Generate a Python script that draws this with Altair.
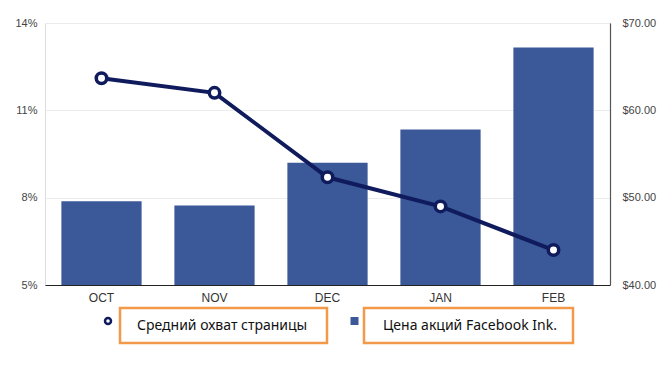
import altair as alt
import pandas as pd

months = ["OCT", "NOV", "DEC", "JAN", "FEB"]
reach_pct = [12.1, 11.6, 8.7, 7.7, 6.2]
price_usd = [49.6, 49.1, 54.0, 57.8, 67.2]
line_label = "Средний охват страницы"
bar_label = "Цена акций Facebook Ink."

df = pd.DataFrame({"month": months, "reach": reach_pct, "price": price_usd})

NAVY = "#0f1b5c"
BLUE = "#3b5998"
ORANGE = "#f39a4a"
W, H = 565, 262

x_enc = alt.X("month:N", sort=months, title=None,
              scale=alt.Scale(paddingInner=0.29, paddingOuter=0.145),
              axis=alt.Axis(labelAngle=0, ticks=False, domain=True, domainColor="#222",
                            domainWidth=1.2, labelPadding=7, labelFontSize=12,
                            labelColor="#333", labelFont="Liberation Sans", grid=False))

bars = alt.Chart(df).mark_bar(color=BLUE).encode(
    x=x_enc,
    y=alt.Y("price:Q", title=None,
            scale=alt.Scale(domain=[40, 70], nice=False, zero=False),
            axis=alt.Axis(orient="right", values=[40, 50, 60, 70], ticks=False,
                          labelExpr="'$' + format(datum.value, '.2f')",
                          labelPadding=12, labelFontSize=11, labelColor="#444",
                          labelFont="Liberation Sans", grid=False,
                          domain=True, domainColor="#555", domainWidth=1.2)),
    y2=alt.datum(40),
)

reach_scale = alt.Scale(domain=[5, 14], nice=False, zero=False)

line = alt.Chart(df).mark_line(color=NAVY, strokeWidth=4).encode(
    x=alt.X("month:N", sort=months),
    y=alt.Y("reach:Q", title=None, scale=reach_scale,
            axis=alt.Axis(orient="left", values=[5, 8, 11, 14], ticks=False,
                          labelExpr="datum.value + '%'", labelPadding=8,
                          labelFontSize=11, labelColor="#444",
                          labelFont="Liberation Sans", grid=True,
                          gridColor="#ececec", domain=False)),
)
pts = alt.Chart(df).mark_point(filled=True, fill="white", stroke=NAVY, strokeWidth=3.5,
                               size=110, opacity=1).encode(
    x=alt.X("month:N", sort=months),
    y=alt.Y("reach:Q", scale=reach_scale, axis=None),
)

dummy = pd.DataFrame({"a": [0]})
box1 = alt.Chart(dummy).mark_rect(fill="white", stroke=ORANGE, strokeWidth=2.5).encode(
    x=alt.value(75), x2=alt.value(282), y=alt.value(285), y2=alt.value(320))
box2 = alt.Chart(dummy).mark_rect(fill="white", stroke=ORANGE, strokeWidth=2.5).encode(
    x=alt.value(319), x2=alt.value(528), y=alt.value(285), y2=alt.value(320))
sym1 = alt.Chart(dummy).mark_point(shape="circle", filled=True, fill="white", stroke=NAVY,
                                   strokeWidth=2.5, size=36, opacity=1).encode(
    x=alt.value(63), y=alt.value(298))
sym2 = alt.Chart(dummy).mark_square(color=BLUE, size=64, opacity=1).encode(
    x=alt.value(309.5), y=alt.value(298))
txt1 = alt.Chart(dummy).mark_text(text=line_label, align="left", baseline="middle",
                                  font="Noto Sans", fontSize=14, color="#111").encode(
    x=alt.value(92), y=alt.value(303))
txt2 = alt.Chart(dummy).mark_text(text=bar_label, align="left", baseline="middle",
                                  font="Noto Sans", fontSize=14, color="#111").encode(
    x=alt.value(338), y=alt.value(303))

chart = alt.layer(bars, line, pts, box1, box2, sym1, sym2, txt1, txt2).resolve_scale(
    y="independent"
).properties(
    width=W, height=H,
    padding={"left": 37, "top": 15, "right": 50, "bottom": 60},
    autosize=alt.AutoSizeParams(type="none"),
).configure_view(stroke=None).configure(background="white")

chart.save("out.html", embed_options={"renderer": "svg", "actions": False})
